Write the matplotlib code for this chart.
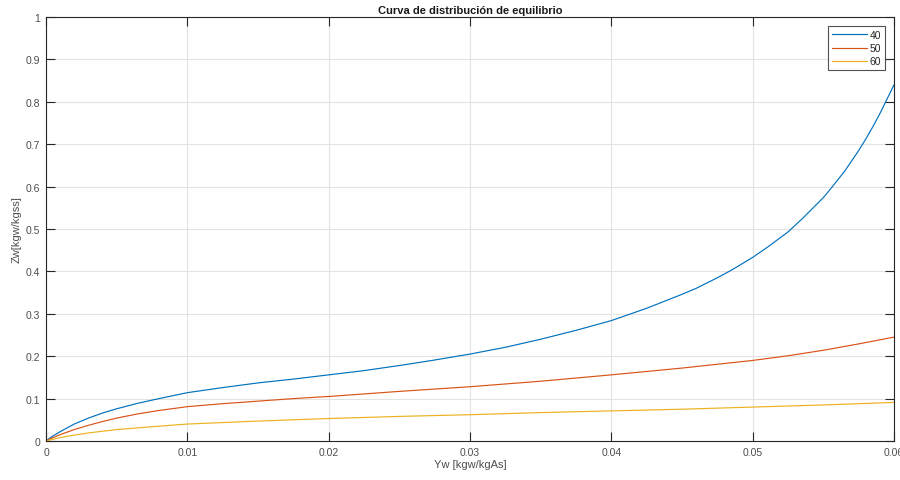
import matplotlib
matplotlib.use("Agg")
import matplotlib.pyplot as plt
from matplotlib.ticker import FixedLocator, FixedFormatter

plt.rcParams['font.family'] = ['Liberation Sans', 'DejaVu Sans']

# Air humidity Yw [kgw/kgAs] at which the equilibrium values were sampled
yw_40 = [0, 0.00025, 0.0005, 0.001, 0.0015, 0.002, 0.003, 0.004, 0.005, 0.0065,
         0.008, 0.01, 0.0125, 0.015, 0.0175, 0.02, 0.0225, 0.025, 0.0275, 0.03,
         0.0325, 0.035, 0.0375, 0.04, 0.0425, 0.045, 0.046, 0.0475, 0.0485,
         0.0495, 0.05, 0.051, 0.0525, 0.0535, 0.055, 0.0555, 0.0565, 0.0575,
         0.058, 0.0585, 0.059, 0.0595, 0.06]
zw_40 = [0, 0.0065, 0.012, 0.022, 0.031, 0.040, 0.054, 0.066, 0.076, 0.089,
         0.100, 0.114, 0.126, 0.137, 0.146, 0.156, 0.166, 0.178, 0.191, 0.205,
         0.221, 0.240, 0.261, 0.284, 0.313, 0.346, 0.360, 0.385, 0.403,
         0.423, 0.433, 0.456, 0.493, 0.524, 0.574, 0.594, 0.636, 0.685,
         0.712, 0.741, 0.772, 0.806, 0.840]

yw_50 = [0, 0.00025, 0.0005, 0.001, 0.0015, 0.002, 0.003, 0.004, 0.005, 0.0065,
         0.008, 0.01, 0.0125, 0.015, 0.0175, 0.02, 0.025, 0.03, 0.035, 0.04,
         0.0425, 0.045, 0.0475, 0.05, 0.0525, 0.055, 0.0575, 0.06]
zw_50 = [0, 0.0045, 0.008, 0.015, 0.021, 0.027, 0.037, 0.046, 0.054, 0.064,
         0.072, 0.081, 0.088, 0.094, 0.100, 0.105, 0.117, 0.128, 0.141, 0.156,
         0.164, 0.172, 0.181, 0.190, 0.201, 0.214, 0.229, 0.245]

yw_60 = [0, 0.00025, 0.0005, 0.001, 0.0015, 0.002, 0.003, 0.004, 0.005, 0.0065,
         0.008, 0.01, 0.015, 0.02, 0.025, 0.03, 0.035, 0.04, 0.045, 0.05,
         0.055, 0.06]
zw_60 = [0, 0.0022, 0.004, 0.008, 0.011, 0.014, 0.019, 0.023, 0.027, 0.031,
         0.035, 0.040, 0.047, 0.053, 0.058, 0.062, 0.067, 0.071, 0.075, 0.080,
         0.085, 0.091]

series_labels = ["40", "50", "60"]
x_ticks = [0, 0.01, 0.02, 0.03, 0.04, 0.05, 0.06]
x_tick_labels = ["0", "0.01", "0.02", "0.03", "0.04", "0.05", "0.06"]
y_ticks = [0, 0.1, 0.2, 0.3, 0.4, 0.5, 0.6, 0.7, 0.8, 0.9, 1]
y_tick_labels = ["0", "0.1", "0.2", "0.3", "0.4", "0.5", "0.6", "0.7", "0.8", "0.9", "1"]

colors = ["#0072BD", "#D95319", "#EDB120"]

fig = plt.figure(figsize=(9, 4.81), dpi=100)
ax = fig.add_axes([46 / 900, 39 / 481, 848 / 900, 424 / 481])

for xs, ys, c, lab in zip([yw_40, yw_50, yw_60], [zw_40, zw_50, zw_60], colors, series_labels):
    ax.plot(xs, ys, color=c, lw=0.85, label=lab)

ax.set_xlim(0, 0.06)
ax.set_ylim(0, 1)
ax.xaxis.set_major_locator(FixedLocator(x_ticks))
ax.xaxis.set_major_formatter(FixedFormatter(x_tick_labels))
ax.yaxis.set_major_locator(FixedLocator(y_ticks))
ax.yaxis.set_major_formatter(FixedFormatter(y_tick_labels))

ax.grid(True, color="#e3e3e3", lw=0.8)
ax.set_axisbelow(True)
for s in ax.spines.values():
    s.set_color("#262626")
    s.set_linewidth(0.8)
ax.tick_params(direction="in", length=6.5, width=0.8, color="#262626",
               top=True, right=True, labelsize=7.5, labelcolor="#4d4d4d", pad=4)

ax.set_xlabel("Yw [kgw/kgAs]", fontsize=8, color="#4d4d4d", labelpad=2)
ax.set_ylabel("Zw[kgw/kgss]", fontsize=8, color="#4d4d4d", labelpad=3)
ax.set_title("Curva de distribución de equilibrio", fontsize=8, fontweight="bold",
             color="#1a1a1a", pad=3)

leg = ax.legend(loc="upper right", fontsize=7.5, frameon=True, fancybox=False,
                handlelength=3.4, handletextpad=0.2, borderpad=0.35,
                labelspacing=0.3, borderaxespad=0.9)
leg.get_frame().set_edgecolor("#262626")
leg.get_frame().set_linewidth(0.8)
for t in leg.get_texts():
    t.set_color("#262626")

fig.savefig("out.png", dpi=100)
